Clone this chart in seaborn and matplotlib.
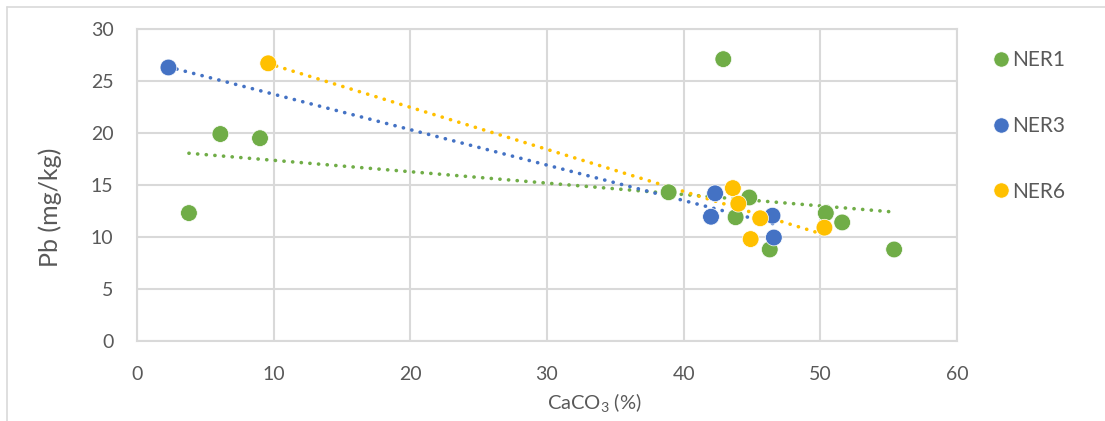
import matplotlib
matplotlib.use("Agg")
import matplotlib.pyplot as plt
from matplotlib.lines import Line2D
import seaborn as sns
import pandas as pd

# ---- data ----
ner1_x = [3.8, 6.1, 9.0, 42.9, 38.9, 43.8, 44.8, 46.3, 50.4, 51.6, 55.4]
ner1_y = [12.3, 19.9, 19.5, 27.1, 14.3, 11.9, 13.8, 8.8, 12.3, 11.4, 8.8]
ner3_x = [2.3, 42.0, 42.3, 46.5, 46.6]
ner3_y = [26.3, 11.95, 14.2, 12.05, 9.95]
ner6_x = [9.6, 43.6, 44.0, 44.9, 45.6, 50.3]
ner6_y = [26.7, 14.7, 13.2, 9.8, 11.8, 10.9]
series_names = ["NER1", "NER3", "NER6"]
colors = {"NER1": "#70AD47", "NER3": "#4472C4", "NER6": "#FFC000"}
x_ticks = [0, 10, 20, 30, 40, 50, 60]
y_ticks = [0, 5, 10, 15, 20, 25, 30]

df = pd.concat([
    pd.DataFrame({"x": ner1_x, "y": ner1_y, "s": "NER1"}),
    pd.DataFrame({"x": ner3_x, "y": ner3_y, "s": "NER3"}),
    pd.DataFrame({"x": ner6_x, "y": ner6_y, "s": "NER6"}),
])

sns.set_theme(style="white")
plt.rcParams["font.family"] = ["Lato", "DejaVu Sans"]
plt.rcParams["mathtext.fontset"] = "custom"
plt.rcParams["mathtext.rm"] = "Lato"
plt.rcParams["mathtext.it"] = "Lato"

grey_txt = "#595959"
grid_c = "#D9D9D9"
W, H = 1105, 421
AX_L, AX_R, AX_T, AX_B = 137, 957, 29, 341

fig = plt.figure(figsize=(W / 100, H / 100), dpi=100)
ax = fig.add_axes([AX_L / W, 1 - AX_B / H, (AX_R - AX_L) / W, (AX_B - AX_T) / H])

# trend lines (linear regression, dotted)
for name in series_names:
    sub = df[df["s"] == name]
    sns.regplot(data=sub, x="x", y="y", ax=ax, scatter=False, ci=None,
                truncate=True, color=colors[name],
                line_kws=dict(linestyle=(0, (0.05, 2.35)), linewidth=2.6,
                              dash_capstyle="round", zorder=2))

sns.scatterplot(data=df, x="x", y="y", hue="s", palette=colors,
                hue_order=series_names, s=145, edgecolor="white",
                linewidth=0.5, ax=ax, zorder=3, legend=False)

ax.set_xlim(0, 60)
ax.set_ylim(0, 30)
ax.set_xticks(x_ticks)
ax.set_yticks(y_ticks)
ax.grid(True, color=grid_c, linewidth=1.5)
ax.set_axisbelow(True)
for sp in ax.spines.values():
    sp.set_color(grid_c)
    sp.set_linewidth(1.5)
ax.tick_params(axis="both", length=0, labelsize=14, colors=grey_txt)
ax.tick_params(axis="y", pad=17)
ax.tick_params(axis="x", pad=18)
ax.set_xlabel("CaCO$_3$ (%)", fontsize=14.5, color=grey_txt)
ax.set_ylabel("Pb (mg/kg)", fontsize=18, color=grey_txt)
ax.xaxis.set_label_coords((594 - AX_L) / (AX_R - AX_L), (AX_B - 391) / (AX_B - AX_T))
ax.yaxis.set_label_coords((62 - AX_L) / (AX_R - AX_L), (AX_B - 207) / (AX_B - AX_T))

handles = [Line2D([0], [0], marker="o", linestyle="none", markersize=11,
                  markerfacecolor=colors[n], markeredgecolor="white",
                  markeredgewidth=0.5, label=n) for n in series_names]
leg = fig.legend(handles=handles, loc="upper left",
                 bbox_to_anchor=(991 / W, 1 - 50 / H), frameon=False,
                 borderpad=0, borderaxespad=0,
                 labelspacing=2.2, handletextpad=0.0, handlelength=1.0,
                 fontsize=15)
for t in leg.get_texts():
    t.set_color(grey_txt)

# outer chart frame (left and top edges)
fig.add_artist(Line2D([7 / W, 7 / W], [0, 1 - 7 / H],
                      transform=fig.transFigure, color=grid_c, linewidth=1.2))
fig.add_artist(Line2D([7 / W, 1], [1 - 7 / H, 1 - 7 / H],
                      transform=fig.transFigure, color=grid_c, linewidth=1.2))

fig.savefig("out.png", dpi=100)
